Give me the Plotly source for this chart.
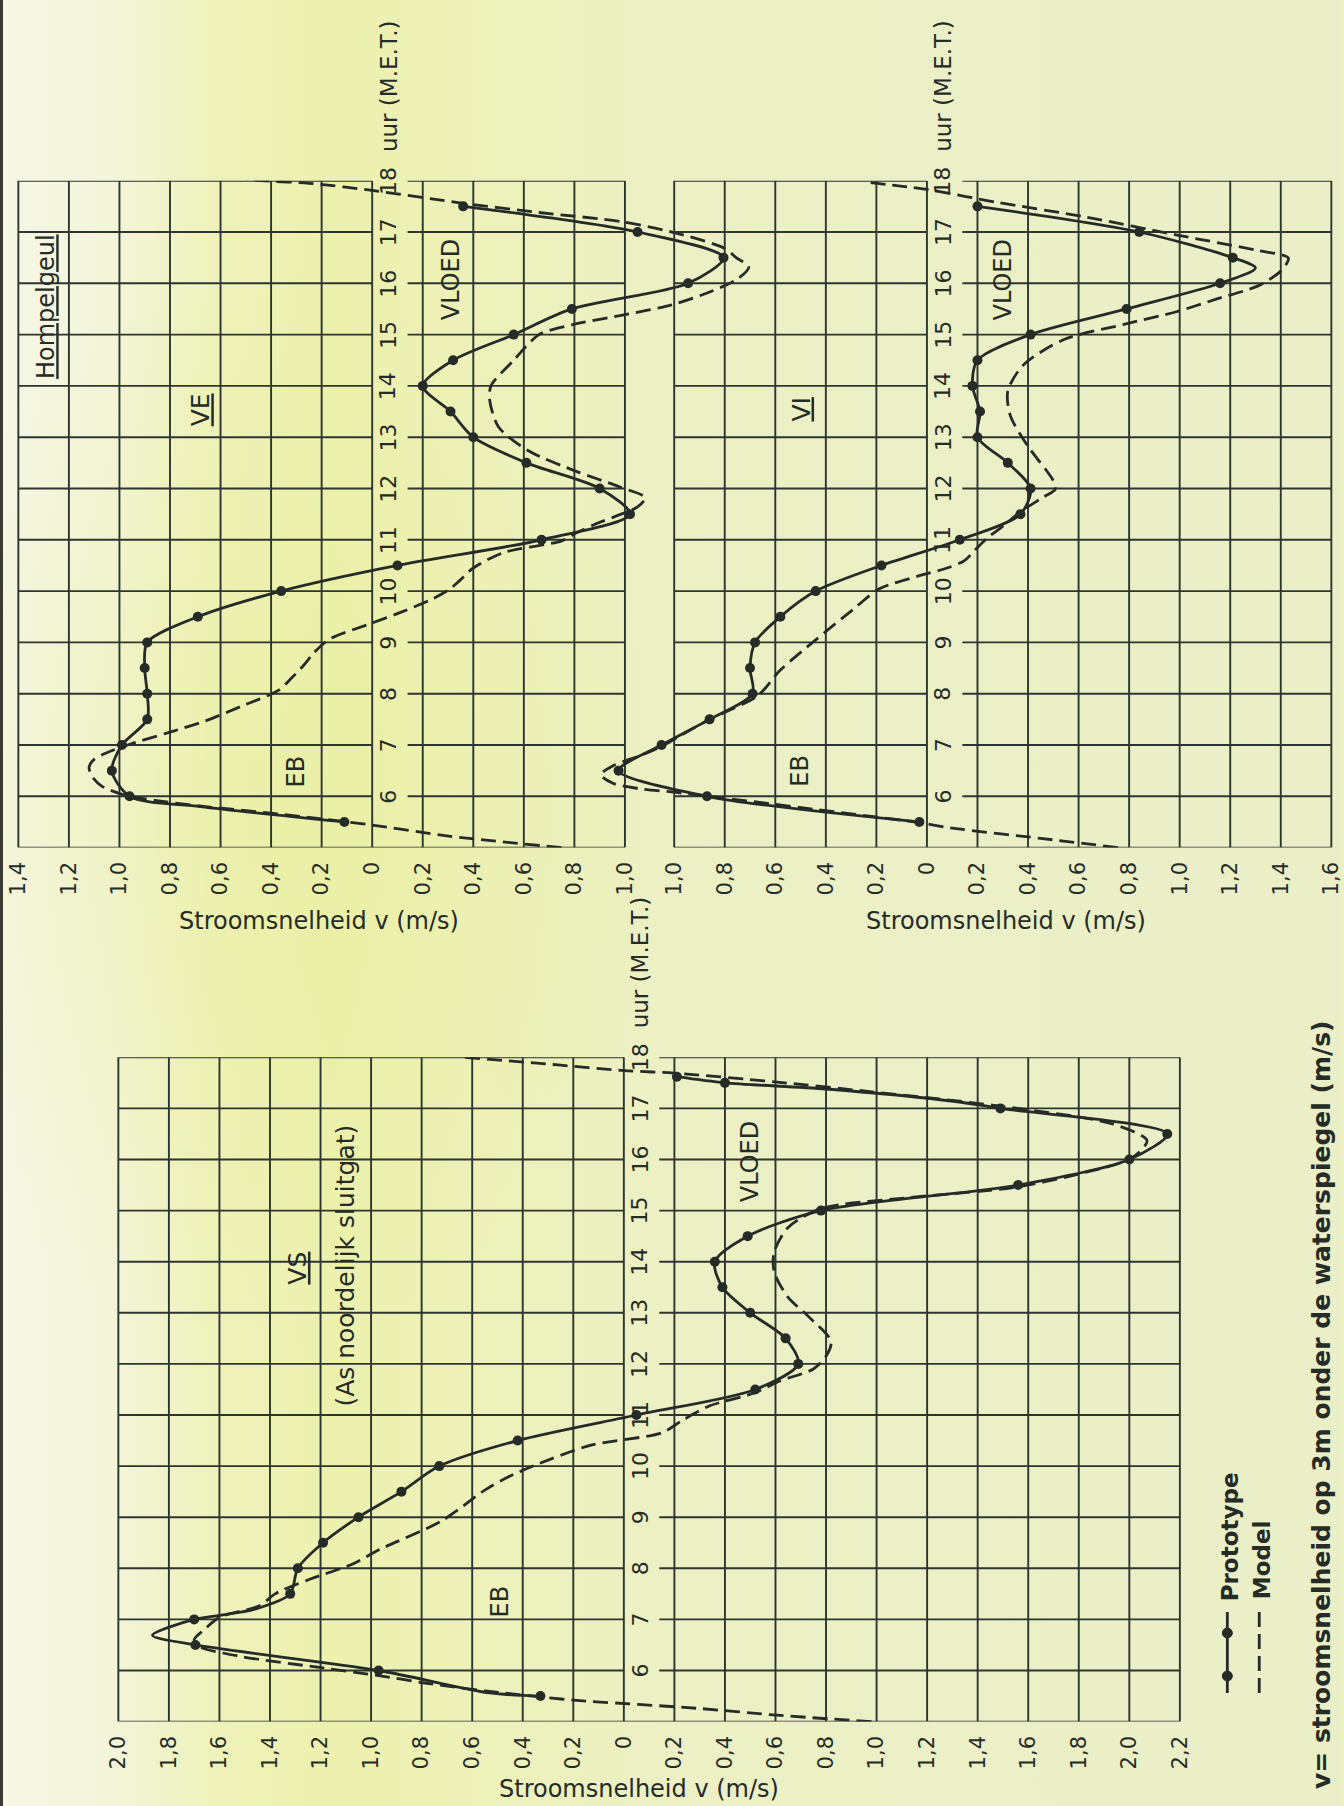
import base64
import plotly.graph_objects as go

# ---------------------------------------------------------------------------
# Stroomsnelheid v (m/s) against time (uur M.E.T.); eb negative, vloed positive
# ---------------------------------------------------------------------------
HOUR_LABELS = [6, 7, 8, 9, 10, 11, 12, 13, 14, 15, 16, 17, 18]

VE_TICKS = [-1.4, -1.2, -1.0, -0.8, -0.6, -0.4, -0.2, 0.0, 0.2, 0.4, 0.6, 0.8, 1.0]
VI_TICKS = [-1.0, -0.8, -0.6, -0.4, -0.2, 0.0, 0.2, 0.4, 0.6, 0.8, 1.0, 1.2, 1.4, 1.6]
VS_TICKS = [-2.0, -1.8, -1.6, -1.4, -1.2, -1.0, -0.8, -0.6, -0.4, -0.2, 0.0,
            0.2, 0.4, 0.6, 0.8, 1.0, 1.2, 1.4, 1.6, 1.8, 2.0, 2.2]

# --- VE (Hompelgeul) ---
VE_PROTO_T = [5.5, 6.0, 6.5, 7.0, 7.5, 8.0, 8.5, 9.0, 9.5, 10.0, 10.5, 11.0, 11.5,
              12.0, 12.5, 13.0, 13.5, 14.0, 14.5, 15.0, 15.5, 16.0, 16.5, 17.0, 17.5]
VE_PROTO_V = [-0.11, -0.96, -1.03, -0.99, -0.89, -0.89, -0.90, -0.89, -0.69, -0.36, 0.10, 0.67, 1.02,
              0.90, 0.61, 0.40, 0.31, 0.20, 0.32, 0.56, 0.79, 1.25, 1.39, 1.05, 0.36]
VE_KNOT_T = [5.8]
VE_KNOT_V = [-0.68]
VE_MODEL_T = [5.0, 5.22, 5.44, 5.56, 5.68, 5.8, 5.92, 6.04, 6.2, 6.4, 6.57, 6.72, 6.85, 7.03,
              7.25, 7.47, 7.75, 8.07, 8.3, 8.56, 8.8, 9.06, 9.36, 9.6, 9.85, 10.05, 10.2, 10.45,
              10.75, 10.98, 11.14, 11.3, 11.49, 11.64, 11.82, 12.03, 12.33, 12.73, 13.2, 13.72,
              14.0, 14.5, 15.0, 15.19, 15.38, 15.58, 15.84, 16.1, 16.32, 16.5, 16.68, 16.97,
              17.2, 17.38, 17.56, 17.81, 17.95, 18.0, 18.03]
VE_MODEL_V = [0.75, 0.31, 0.0, -0.2, -0.42, -0.66, -0.86, -0.99, -1.07, -1.11, -1.12, -1.10, -1.05, -0.95,
              -0.80, -0.66, -0.52, -0.37, -0.32, -0.27, -0.23, -0.17, -0.01, 0.12, 0.24, 0.31, 0.345, 0.40,
              0.52, 0.75, 0.81, 0.88, 0.98, 1.05, 1.08, 0.98, 0.81, 0.62, 0.50, 0.465,
              0.47, 0.56, 0.66, 0.79, 0.99, 1.185, 1.34, 1.45, 1.49, 1.44, 1.395, 1.21,
              0.99, 0.66, 0.36, 0.0, -0.25, -0.44, -0.50]

# --- VI ---
VI_PROTO_T = [5.5, 6.0, 6.5, 7.0, 7.5, 8.0, 8.5, 9.0, 9.5, 10.0, 10.5, 11.0, 11.5,
              12.0, 12.5, 13.0, 13.5, 14.0, 14.5, 15.0, 15.5, 16.0, 16.5, 17.0, 17.5]
VI_PROTO_V = [-0.03, -0.87, -1.22, -1.05, -0.86, -0.69, -0.70, -0.68, -0.58, -0.44, -0.18, 0.13, 0.37,
              0.41, 0.32, 0.20, 0.21, 0.18, 0.20, 0.41, 0.79, 1.16, 1.21, 0.84, 0.20]
VI_KNOT_T = [16.3]
VI_KNOT_V = [1.30]
VI_MODEL_T = [5.0, 5.18, 5.38, 5.5, 5.75, 6.0, 6.08, 6.15, 6.25, 6.42, 6.6, 6.8, 7.0, 7.2, 7.5,
              7.96, 8.46, 9.05, 9.65, 10.04, 10.3, 10.45, 10.6, 10.8, 11.04, 11.3, 11.53, 11.83,
              11.98, 12.15, 12.37, 12.82, 13.42, 13.9, 14.4, 14.9, 15.2, 15.45, 15.7, 15.95,
              16.24, 16.49, 16.64, 16.94, 17.29, 17.58, 17.83, 17.88, 17.98]
VI_MODEL_V = [0.756, 0.45, 0.10, -0.05, -0.45, -0.86, -1.0, -1.14, -1.24, -1.29, -1.24, -1.13, -1.04, -0.97, -0.86,
              -0.67, -0.58, -0.44, -0.29, -0.19, -0.03, 0.08, 0.15, 0.19, 0.24, 0.31, 0.365, 0.46,
              0.507, 0.50, 0.47, 0.40, 0.33, 0.32, 0.38, 0.54, 0.78, 0.99, 1.15, 1.31,
              1.40, 1.43, 1.31, 0.99, 0.63, 0.276, 0.0, -0.08, -0.25]

# --- VS (As noordelijk sluitgat) ---
VS_PROTO_T = [5.5, 6.0, 6.5, 7.0, 7.5, 8.0, 8.5, 9.0, 9.5, 10.0, 10.5, 11.0, 11.5,
              12.0, 12.5, 13.0, 13.5, 14.0, 14.5, 15.0, 15.5, 16.0, 16.5, 17.0, 17.5, 17.62]
VS_PROTO_V = [-0.33, -0.97, -1.695, -1.70, -1.32, -1.29, -1.19, -1.05, -0.88, -0.73, -0.42, 0.05, 0.52,
              0.69, 0.64, 0.50, 0.39, 0.36, 0.49, 0.78, 1.56, 2.00, 2.15, 1.49, 0.40, 0.21]
VS_KNOT_T = [5.56, 6.69, 7.1, 7.2, 17.13, 17.38]
VS_KNOT_V = [-0.53, -1.865, -1.57, -1.46, 1.32, 0.80]
VS_MODEL_T = [5.0, 5.12, 5.26, 5.42, 5.5, 5.6, 5.75, 5.9, 6.05, 6.27, 6.47, 6.6, 6.8, 7.04, 7.27, 7.5,
              7.79, 8.08, 8.37, 8.93, 9.53, 9.79, 10.02, 10.41, 10.65, 10.89, 11.18, 11.42, 11.67,
              11.9, 12.15, 12.44, 12.93, 13.3, 13.8, 14.19, 14.67, 15.04, 15.25, 15.45, 15.74,
              16.03, 16.37, 16.7, 17.05, 17.32, 17.52, 17.69, 17.74, 17.85, 18.0]
VS_MODEL_V = [0.98, 0.62, 0.29, -0.20, -0.36, -0.55, -0.78, -0.97, -1.19, -1.51, -1.68, -1.70, -1.66, -1.60,
              -1.44, -1.38,
              -1.24, -1.075, -0.965, -0.72, -0.55, -0.456, -0.35, -0.13, 0.15, 0.23, 0.34, 0.51, 0.62,
              0.75, 0.80, 0.82, 0.73, 0.65, 0.595, 0.595, 0.65, 0.78, 1.12, 1.54, 1.82,
              2.01, 2.07, 1.93, 1.48, 0.99, 0.596, 0.20, 0.0, -0.26, -0.63]

# ---------------------------------------------------------------------------
# Page geometry (pixels) and styling
# ---------------------------------------------------------------------------
W, H = 1344, 1806
PX_PER_MS = 253.5
FONT = "DejaVu Sans, sans-serif"
INK = "#252b27"
GRID = "#2c3530"
DASH = "15px,7px"
LINE_W = 2.8
GRID_W = 1.9
LABEL_GAP = 0.14          # free column right of v=0 holding the hour labels

PANELS = [
    dict(name="VE", zero_px=373.3, top_px=180.7, px_per_h=51.3, span=(-1.45, 1.62),
         ticks=VE_TICKS, proto=(VE_PROTO_T, VE_PROTO_V), knots=(VE_KNOT_T, VE_KNOT_V),
         model=(VE_MODEL_T, VE_MODEL_V)),
    dict(name="VI", zero_px=929.7, top_px=180.7, px_per_h=51.3, span=(-1.36, 1.63),
         ticks=VI_TICKS, proto=(VI_PROTO_T, VI_PROTO_V), knots=(VI_KNOT_T, VI_KNOT_V),
         model=(VI_MODEL_T, VI_MODEL_V)),
    dict(name="VS", zero_px=625.7, top_px=1057.3, px_per_h=51.1, span=(-2.05, 2.25),
         ticks=VS_TICKS, proto=(VS_PROTO_T, VS_PROTO_V), knots=(VS_KNOT_T, VS_KNOT_V),
         model=(VS_MODEL_T, VS_MODEL_V)),
]
T_MIN, T_MAX = 5, 18


def fmt(v):
    if abs(v) < 1e-9:
        return "0"
    return f"{abs(v):.1f}".replace(".", ",")


def pxx(px):
    return px / W


def pxy(py):
    return 1 - py / H


fig = go.Figure()
shapes = []
annotations = []
layout_axes = {}

for i, p in enumerate(PANELS, start=1):
    xk = "xaxis" if i == 1 else f"xaxis{i}"
    yk = "yaxis" if i == 1 else f"yaxis{i}"
    xr = "x" if i == 1 else f"x{i}"
    yr = "y" if i == 1 else f"y{i}"

    left = p["zero_px"] + p["span"][0] * PX_PER_MS
    right = p["zero_px"] + p["span"][1] * PX_PER_MS
    top = p["top_px"]
    bottom = top + (T_MAX - T_MIN) * p["px_per_h"]

    layout_axes[xk] = dict(
        domain=[pxx(left), min(1.0, pxx(right))], range=list(p["span"]), anchor=yr,
        showgrid=False, zeroline=False, showline=False,
        tickmode="array", tickvals=p["ticks"], ticktext=[fmt(v) for v in p["ticks"]],
        tickangle=-90, ticks="outside", ticklen=5, tickcolor="rgba(0,0,0,0)",
        ticklabeloverflow="allow",
        tickfont=dict(family=FONT, size=21, color=INK), fixedrange=True,
    )
    layout_axes[yk] = dict(
        domain=[pxy(bottom), pxy(top)], range=[T_MIN, T_MAX], anchor=xr,
        showgrid=False, zeroline=False, showline=False, showticklabels=False,
        ticks="", fixedrange=True,
    )

    vmin, vmax = p["ticks"][0], p["ticks"][-1]
    gl = dict(color=GRID, width=GRID_W)
    # vertical grid lines
    for v in p["ticks"]:
        shapes.append(dict(type="line", xref=xr, yref=yr, x0=v, x1=v, y0=T_MIN, y1=T_MAX,
                           line=gl, layer="below"))
    # horizontal grid lines, broken where the hour labels sit
    for h in range(T_MIN, T_MAX + 1):
        if h == T_MIN:
            shapes.append(dict(type="line", xref=xr, yref=yr, x0=vmin, x1=vmax, y0=h, y1=h,
                               line=gl, layer="below"))
        else:
            shapes.append(dict(type="line", xref=xr, yref=yr, x0=vmin, x1=0, y0=h, y1=h,
                               line=gl, layer="below"))
            shapes.append(dict(type="line", xref=xr, yref=yr, x0=LABEL_GAP, x1=vmax, y0=h, y1=h,
                               line=gl, layer="below"))

    # hour labels along the v = 0 line
    for h in HOUR_LABELS:
        annotations.append(dict(xref=xr, yref=yr, x=0.064, y=h, text=str(h), showarrow=False,
                                textangle=-90, font=dict(family=FONT, size=22, color=INK),
                                xanchor="center", yanchor="middle"))
    annotations.append(dict(xref=xr, yref=yr, x=0.064, y=T_MAX, text="uur (M.E.T.)",
                            showarrow=False, textangle=-90,
                            font=dict(family=FONT, size=23, color=INK),
                            xanchor="center", yanchor="bottom", yshift=27))

    # model (dashed)
    mt, mv = p["model"]
    fig.add_trace(go.Scatter(x=mv, y=mt, mode="lines", xaxis=xr, yaxis=yr,
                             line=dict(color=INK, width=LINE_W, dash=DASH, shape="spline",
                                       smoothing=0.8),
                             hoverinfo="skip", showlegend=False))
    # prototype (solid line through measurements and curve knots)
    pt, pv = p["proto"]
    kt, kv = p["knots"]
    pts = sorted(zip(list(pt) + list(kt), list(pv) + list(kv)))
    fig.add_trace(go.Scatter(x=[q[1] for q in pts], y=[q[0] for q in pts], mode="lines",
                             xaxis=xr, yaxis=yr,
                             line=dict(color=INK, width=LINE_W, shape="spline", smoothing=0.8),
                             hoverinfo="skip", showlegend=False))
    fig.add_trace(go.Scatter(x=pv, y=pt, mode="markers", xaxis=xr, yaxis=yr,
                             marker=dict(color=INK, size=10),
                             hoverinfo="skip", showlegend=False))

# ---------------------------------------------------------------------------
# Panel texts (rotated lettering)
# ---------------------------------------------------------------------------
def label(xr, yr, x, y, text, size=23, bold=False):
    annotations.append(dict(xref=xr, yref=yr, x=x, y=y, text=text, showarrow=False,
                            textangle=-90,
                            font=dict(family=FONT, size=size, color=INK,
                                      weight="bold" if bold else "normal"),
                            xanchor="center", yanchor="middle"))


label("x", "y", -1.29, 15.54, "<u>Hompelgeul</u>", 24)
label("x", "y", -0.68, 13.53, "<u>VE</u>", 25)
label("x", "y", -0.30, 6.49, "EB", 24)
label("x", "y", 0.31, 16.07, "VLOED", 24)

label("x2", "y2", -0.50, 13.53, "<u>VI</u>", 25)
label("x2", "y2", -0.50, 6.49, "EB", 24)
label("x2", "y2", 0.30, 16.07, "VLOED", 24)

label("x3", "y3", -1.29, 13.88, "<u>VS</u>", 25)
label("x3", "y3", -1.10, 13.92, "(As noordelijk sluitgat)", 25)
label("x3", "y3", -0.49, 7.35, "EB", 24)
label("x3", "y3", 0.50, 15.95, "VLOED", 24)

# horizontal axis titles
for cx, cy in [(320, 921), (1009, 921), (641, 1789)]:
    annotations.append(dict(xref="paper", yref="paper", x=pxx(cx), y=pxy(cy),
                            text="Stroomsnelheid v (m/s)", showarrow=False,
                            font=dict(family=FONT, size=24, color=INK),
                            xanchor="center", yanchor="middle"))

# legend
annotations.append(dict(xref="paper", yref="paper", x=pxx(1234), y=pxy(1537),
                        text="Prototype", showarrow=False, textangle=-90,
                        font=dict(family=FONT, size=23, color=INK, weight="bold"),
                        xanchor="center", yanchor="middle"))
annotations.append(dict(xref="paper", yref="paper", x=pxx(1266), y=pxy(1560),
                        text="Model", showarrow=False, textangle=-90,
                        font=dict(family=FONT, size=23, color=INK, weight="bold"),
                        xanchor="center", yanchor="middle"))
shapes.append(dict(type="line", xref="paper", yref="paper", x0=pxx(1231), x1=pxx(1231),
                   y0=pxy(1612), y1=pxy(1693), line=dict(color=INK, width=LINE_W)))
for dy in (1633, 1676):
    shapes.append(dict(type="circle", xref="paper", yref="paper",
                       x0=pxx(1226), x1=pxx(1236), y0=pxy(dy - 5), y1=pxy(dy + 5),
                       fillcolor=INK, line=dict(color=INK, width=1)))
shapes.append(dict(type="line", xref="paper", yref="paper", x0=pxx(1263), x1=pxx(1263),
                   y0=pxy(1612), y1=pxy(1693), line=dict(color=INK, width=LINE_W, dash=DASH)))

# footnote
annotations.append(dict(xref="paper", yref="paper", x=pxx(1325), y=pxy(1405),
                        text="v= stroomsnelheid op 3m onder de waterspiegel (m/s)",
                        showarrow=False, textangle=-90,
                        font=dict(family=FONT, size=25, color=INK, weight="bold"),
                        xanchor="center", yanchor="middle"))

# dark binding edge on the left
shapes.append(dict(type="rect", xref="paper", yref="paper", x0=0, x1=pxx(3),
                   y0=0, y1=1, fillcolor="#3a3c33", line=dict(width=0), layer="below"))

# paper tint
svg = f"""<svg xmlns="http://www.w3.org/2000/svg" width="{W}" height="{H}" viewBox="0 0 {W} {H}" preserveAspectRatio="none">
<defs>
<linearGradient id="g" x1="0" y1="0" x2="1" y2="0">
<stop offset="0" stop-color="#f6f7e6"/>
<stop offset="0.08" stop-color="#f3f5da"/>
<stop offset="0.16" stop-color="#eef2ba"/>
<stop offset="0.25" stop-color="#ecf1ae"/>
<stop offset="0.36" stop-color="#edf1ba"/>
<stop offset="0.5" stop-color="#ecf0c4"/>
<stop offset="1" stop-color="#eaefc8"/>
</linearGradient>
<radialGradient id="r" cx="0.2" cy="0.45" r="0.3">
<stop offset="0" stop-color="#e9ee9c" stop-opacity="0.5"/>
<stop offset="1" stop-color="#e9ee9c" stop-opacity="0"/>
</radialGradient>
</defs>
<rect width="{W}" height="{H}" fill="url(#g)"/>
<rect width="{W}" height="{H}" fill="url(#r)"/>
</svg>"""
bg_src = "data:image/svg+xml;base64," + base64.b64encode(svg.encode()).decode()

fig.update_layout(
    width=W, height=H, margin=dict(l=0, r=0, t=0, b=0),
    paper_bgcolor="#ecf1c4", plot_bgcolor="rgba(0,0,0,0)",
    showlegend=False, shapes=shapes, annotations=annotations,
    images=[dict(source=bg_src, xref="paper", yref="paper", x=0, y=1, sizex=1, sizey=1,
                 xanchor="left", yanchor="top", sizing="stretch", layer="below")],
    **layout_axes,
)

fig.write_html("out.html")
